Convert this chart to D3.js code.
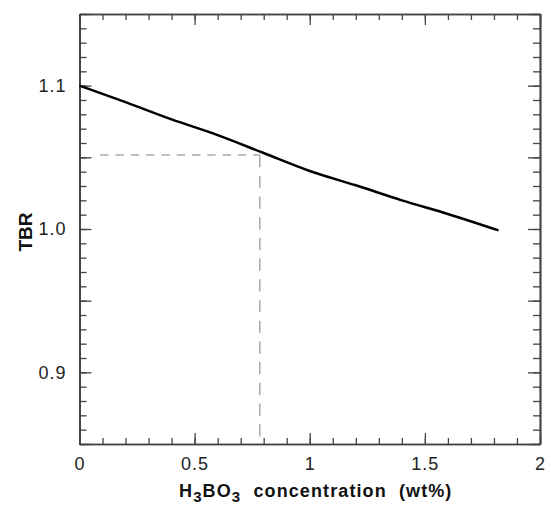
<!DOCTYPE html>
<html>
<head>
<meta charset="utf-8">
<script src="https://cdn.jsdelivr.net/npm/d3@7"></script>
<style>
  body { margin: 0; background: #fff; }
  svg text { font-family: "Liberation Sans", Arial, Helvetica, sans-serif; }
</style>
</head>
<body>
<div id="chart"></div>
<script>
// TBR vs H3BO3 concentration
const concX = [0, 0.2, 0.4, 0.6, 0.8, 1.0, 1.2, 1.4, 1.6, 1.82];
const tbrY  = [1.100, 1.0885, 1.0765, 1.0655, 1.0530, 1.0405, 1.0305, 1.0200, 1.0105, 0.9990];

// dashed guide to the operating point
const refPoint = { x: 0.783, y: 1.0516 };
const refStartX = 0.09;

const xMajor = [0, 0.5, 1, 1.5, 2];
const xMinor = d3.range(0, 2.0001, 0.1);
const yMajor = [0.9, 1.0, 1.1];
const yMid = [0.85, 0.95, 1.05, 1.15];
const yMinor = d3.range(0.85, 1.15001, 0.01);

const width = 551, height = 505;
const margin = { top: 14, right: 11, bottom: 61, left: 79.5 };
const innerW = width - margin.left - margin.right;
const innerH = height - margin.top - margin.bottom;

const svg = d3.select('#chart').append('svg')
    .attr('width', width)
    .attr('height', height);

const g = svg.append('g')
    .attr('transform', `translate(${margin.left},${margin.top})`);

const x = d3.scaleLinear().domain([0, 2]).range([0, innerW]);
const y = d3.scaleLinear().domain([0.85, 1.15]).range([innerH, 0]);

const axisColor = '#444';

function styleAxis(sel) {
    sel.selectAll('path.domain').attr('stroke', axisColor).attr('stroke-width', 1.5);
    sel.selectAll('.tick line').attr('stroke', axisColor).attr('stroke-width', 1.3);
    sel.selectAll('.tick text')
        .attr('fill', '#222')
        .style('font-size', '18px')
        .style('letter-spacing', '1px');
}

// minor ticks first (no labels)
g.append('g').attr('transform', `translate(0,${innerH})`)
    .call(d3.axisBottom(x).tickValues(xMinor).tickSize(-6).tickSizeOuter(0).tickFormat(''))
    .call(styleAxis);
g.append('g')
    .call(d3.axisTop(x).tickValues(xMinor).tickSize(-6).tickSizeOuter(0).tickFormat(''))
    .call(styleAxis);
g.append('g')
    .call(d3.axisLeft(y).tickValues(yMinor).tickSize(-7).tickSizeOuter(0).tickFormat(''))
    .call(styleAxis);
g.append('g').attr('transform', `translate(${innerW},0)`)
    .call(d3.axisRight(y).tickValues(yMinor).tickSize(-7).tickSizeOuter(0).tickFormat(''))
    .call(styleAxis);

// mid ticks on y (0.05)
g.append('g')
    .call(d3.axisLeft(y).tickValues(yMid).tickSize(-12).tickSizeOuter(0).tickFormat(''))
    .call(styleAxis);
g.append('g').attr('transform', `translate(${innerW},0)`)
    .call(d3.axisRight(y).tickValues(yMid).tickSize(-12).tickSizeOuter(0).tickFormat(''))
    .call(styleAxis);

// major ticks with labels
g.append('g').attr('transform', `translate(0,${innerH})`)
    .call(d3.axisBottom(x).tickValues(xMajor).tickSize(-11).tickSizeOuter(0)
        .tickPadding(13).tickFormat(d3.format('~g')))
    .call(styleAxis);
g.append('g')
    .call(d3.axisTop(x).tickValues(xMajor).tickSize(-11).tickSizeOuter(0).tickFormat(''))
    .call(styleAxis);
g.append('g')
    .call(d3.axisLeft(y).tickValues(yMajor).tickSize(-12).tickSizeOuter(0)
        .tickPadding(13).tickFormat(d3.format('.1f')))
    .call(styleAxis);
g.append('g').attr('transform', `translate(${innerW},0)`)
    .call(d3.axisRight(y).tickValues(yMajor).tickSize(-12).tickSizeOuter(0).tickFormat(''))
    .call(styleAxis);

// dashed guides
g.append('line')
    .attr('x1', x(refStartX)).attr('x2', x(refPoint.x))
    .attr('y1', y(refPoint.y)).attr('y2', y(refPoint.y))
    .attr('stroke', '#aaa')
    .attr('stroke-width', 1.5)
    .attr('stroke-dasharray', '8.3,7');
g.append('line')
    .attr('x1', x(refPoint.x)).attr('x2', x(refPoint.x))
    .attr('y1', y(refPoint.y)).attr('y2', innerH)
    .attr('stroke', '#aaa')
    .attr('stroke-width', 1.5)
    .attr('stroke-dasharray', '12.3,8.4');

// TBR curve
const line = d3.line()
    .x(d => x(d[0]))
    .y(d => y(d[1]))
    .curve(d3.curveMonotoneX);

g.append('path')
    .datum(concX.map((v, i) => [v, tbrY[i]]))
    .attr('fill', 'none')
    .attr('stroke', '#000')
    .attr('stroke-width', 2.5)
    .attr('d', line);

// axis titles
const xTitle = svg.append('text')
    .attr('x', margin.left + innerW / 2 + 6)
    .attr('y', 497)
    .attr('text-anchor', 'middle')
    .style('font-size', '18px')
    .style('font-weight', 'bold')
    .style('letter-spacing', '1.1px')
    .attr('fill', '#111')
    .attr('xml:space', 'preserve');
xTitle.append('tspan').text('H');
xTitle.append('tspan').attr('dy', 5).style('font-size', '15px').text('3');
xTitle.append('tspan').attr('dy', -5).text('BO');
xTitle.append('tspan').attr('dy', 5).style('font-size', '15px').text('3');
xTitle.append('tspan').attr('dy', -5).text('  concentration  (wt%)');

svg.append('text')
    .attr('transform', `translate(32,${margin.top + innerH / 2 + 3}) rotate(-90)`)
    .attr('text-anchor', 'middle')
    .style('font-size', '19px')
    .style('font-weight', 'bold')
    .attr('fill', '#111')
    .text('TBR');
</script>
</body>
</html>
